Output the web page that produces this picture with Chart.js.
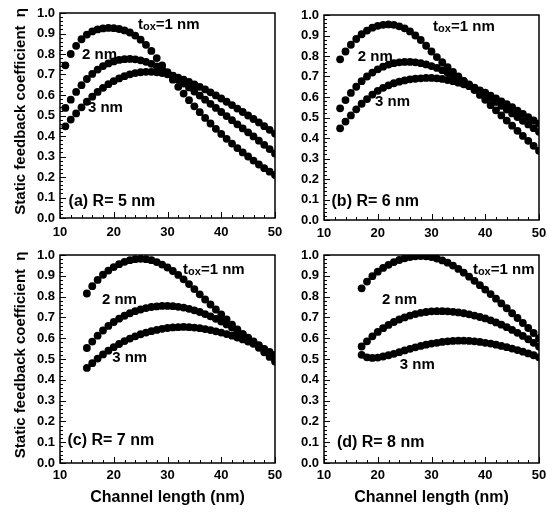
<!DOCTYPE html>
<html>
<head>
<meta charset="utf-8">
<script src="https://cdn.jsdelivr.net/npm/chart.js@4.4.0/dist/chart.umd.min.js"></script>
<style>
  html, body { margin: 0; padding: 0; background: #fff; }
  #wrap { position: relative; width: 547px; height: 513px; overflow: hidden; }
  canvas { position: absolute; }
</style>
</head>
<body>
<div id="wrap">
  <canvas id="chartA" width="285" height="245" style="left:0;top:0"></canvas>
  <canvas id="chartB" width="262" height="245" style="left:285px;top:0"></canvas>
  <canvas id="chartC" width="285" height="273" style="left:0;top:240px"></canvas>
  <canvas id="chartD" width="262" height="273" style="left:285px;top:240px"></canvas>
</div>
<script>
// static feedback coefficient vs channel length, 4 panels (R = 5..8 nm)

const xTicks = [10, 20, 30, 40, 50];
const yTicks = [0, 0.1, 0.2, 0.3, 0.4, 0.5, 0.6, 0.7, 0.8, 0.9, 1.0];

// ── (a) R = 5 nm ──
const lenA = [11, 12, 13, 14, 15, 16, 17, 18, 19, 20, 21, 22, 23, 24, 25, 26, 27, 28, 29, 30,
              31, 32, 33, 34, 35, 36, 37, 38, 39, 40, 41, 42, 43, 44, 45, 46, 47, 48, 49, 50];
const a1nm = [0.745, 0.80, 0.84, 0.872, 0.895, 0.91, 0.92, 0.925, 0.927, 0.926,
              0.922, 0.915, 0.905, 0.89, 0.87, 0.845, 0.815, 0.78, 0.745, 0.71,
              0.675, 0.64, 0.607, 0.575, 0.545, 0.516, 0.488, 0.461, 0.435, 0.41,
              0.386, 0.363, 0.341, 0.32, 0.30, 0.28, 0.261, 0.243, 0.226, 0.21];
const a2nm = [0.537, 0.577, 0.615, 0.648, 0.678, 0.703, 0.724, 0.741, 0.754, 0.764,
              0.771, 0.775, 0.776, 0.774, 0.769, 0.762, 0.752, 0.74, 0.726, 0.71,
              0.693, 0.675, 0.656, 0.637, 0.617, 0.597, 0.577, 0.557, 0.537, 0.517,
              0.497, 0.477, 0.457, 0.437, 0.418, 0.398, 0.377, 0.357, 0.336, 0.315];
const a3nm = [0.447, 0.48, 0.51, 0.54, 0.567, 0.592, 0.615, 0.635, 0.653, 0.668,
              0.681, 0.692, 0.701, 0.707, 0.711, 0.713, 0.713, 0.711, 0.707, 0.701,
              0.694, 0.685, 0.675, 0.664, 0.652, 0.640, 0.627, 0.613, 0.598, 0.583,
              0.567, 0.551, 0.534, 0.517, 0.50, 0.483, 0.466, 0.448, 0.43, 0.412];

// ── (b) R = 6 nm ──
const lenB = [13, 14, 15, 16, 17, 18, 19, 20, 21, 22, 23, 24, 25, 26, 27, 28, 29, 30, 31, 32,
              33, 34, 35, 36, 37, 38, 39, 40, 41, 42, 43, 44, 45, 46, 47, 48, 49, 50];
const b1nm = [0.784, 0.822, 0.855, 0.883, 0.906, 0.924, 0.938, 0.947, 0.952, 0.954,
              0.952, 0.945, 0.935, 0.92, 0.90, 0.878, 0.85, 0.822, 0.795, 0.77,
              0.746, 0.723, 0.701, 0.679, 0.657, 0.634, 0.61, 0.586, 0.56, 0.535,
              0.51, 0.485, 0.46, 0.435, 0.41, 0.386, 0.362, 0.338];
const b2nm = [0.545, 0.585, 0.62, 0.65, 0.677, 0.70, 0.719, 0.735, 0.748, 0.758,
              0.765, 0.769, 0.771, 0.771, 0.769, 0.765, 0.759, 0.751, 0.742, 0.731,
              0.719, 0.706, 0.692, 0.677, 0.662, 0.646, 0.63, 0.614, 0.595, 0.576,
              0.557, 0.539, 0.52, 0.502, 0.484, 0.466, 0.448, 0.43];
const b3nm = [0.447, 0.48, 0.51, 0.54, 0.567, 0.59, 0.612, 0.63, 0.645, 0.657,
              0.667, 0.675, 0.681, 0.686, 0.689, 0.691, 0.693, 0.693, 0.691, 0.688,
              0.683, 0.677, 0.67, 0.662, 0.653, 0.643, 0.632, 0.621, 0.607, 0.593,
              0.579, 0.565, 0.55, 0.534, 0.518, 0.502, 0.486, 0.47];

// ── (c) R = 7 nm ──
const lenC = [15, 16, 17, 18, 19, 20, 21, 22, 23, 24, 25, 26, 27, 28, 29, 30, 31, 32,
              33, 34, 35, 36, 37, 38, 39, 40, 41, 42, 43, 44, 45, 46, 47, 48, 49, 50];
const c1nm = [0.815, 0.85, 0.88, 0.905, 0.925, 0.942, 0.956, 0.967, 0.975, 0.98,
              0.982, 0.98, 0.975, 0.966, 0.954, 0.94, 0.923, 0.904, 0.883, 0.86,
              0.836, 0.811, 0.786, 0.762, 0.738, 0.714, 0.69, 0.665, 0.642, 0.62,
              0.598, 0.576, 0.554, 0.532, 0.51, 0.488];
const c2nm = [0.553, 0.584, 0.612, 0.637, 0.659, 0.678, 0.694, 0.708, 0.72, 0.73,
              0.738, 0.745, 0.75, 0.753, 0.755, 0.755, 0.754, 0.751, 0.747, 0.741,
              0.734, 0.726, 0.716, 0.705, 0.693, 0.68, 0.666, 0.651, 0.636, 0.62,
              0.603, 0.585, 0.566, 0.546, 0.525, 0.504];
const c3nm = [0.457, 0.48, 0.502, 0.522, 0.54, 0.557, 0.572, 0.586, 0.598, 0.609,
              0.619, 0.627, 0.634, 0.64, 0.645, 0.649, 0.652, 0.653, 0.654, 0.653,
              0.651, 0.648, 0.644, 0.639, 0.633, 0.627, 0.62, 0.612, 0.603, 0.594,
              0.584, 0.573, 0.561, 0.548, 0.534, 0.52];

// ── (d) R = 8 nm ──
const lenD = [17, 18, 19, 20, 21, 22, 23, 24, 25, 26, 27, 28, 29, 30, 31, 32,
              33, 34, 35, 36, 37, 38, 39, 40, 41, 42, 43, 44, 45, 46, 47, 48, 49, 50];
const d1nm = [0.84, 0.872, 0.898, 0.92, 0.938, 0.953, 0.966, 0.976, 0.984, 0.99,
              0.994, 0.995, 0.994, 0.99, 0.983, 0.974, 0.963, 0.949, 0.933, 0.915,
              0.896, 0.876, 0.855, 0.834, 0.812, 0.79, 0.767, 0.744, 0.72, 0.697,
              0.673, 0.649, 0.625, 0.60];
const d2nm = [0.56, 0.585, 0.609, 0.63, 0.648, 0.664, 0.678, 0.69, 0.70, 0.709,
              0.716, 0.722, 0.726, 0.729, 0.73, 0.73, 0.729, 0.727, 0.724, 0.72,
              0.715, 0.709, 0.702, 0.695, 0.686, 0.676, 0.665, 0.653, 0.64, 0.626,
              0.611, 0.595, 0.578, 0.56];
const d3nm = [0.52, 0.508, 0.505, 0.507, 0.512, 0.518, 0.525, 0.533, 0.541, 0.549,
              0.556, 0.563, 0.569, 0.574, 0.578, 0.582, 0.585, 0.587, 0.588, 0.588,
              0.587, 0.585, 0.582, 0.578, 0.574, 0.569, 0.563, 0.557, 0.55, 0.543,
              0.535, 0.527, 0.518, 0.508];

const FONT = "'Liberation Sans', Arial, Helvetica, sans-serif";
Chart.defaults.font.family = FONT;
Chart.defaults.color = '#000';

// frame + inward tick marks
const framePlugin = {
    id: 'frame',
    afterDatasetsDraw(chart) {
        const { ctx, chartArea: a, scales: { x, y } } = chart;
        ctx.save();
        ctx.strokeStyle = '#000';
        ctx.lineWidth = 1;
        for (let v = 10; v <= 50; v += 2) {
            const px = Math.round(x.getPixelForValue(v)) + 0.5;
            const len = v % 10 === 0 ? 6 : 3;
            ctx.beginPath();
            ctx.moveTo(px, a.bottom);
            ctx.lineTo(px, a.bottom - len);
            ctx.stroke();
        }
        for (let i = 0; i <= 50; i++) {
            const py = Math.round(y.getPixelForValue(i * 0.02)) + 0.5;
            const len = i % 5 === 0 ? 6 : 3;
            ctx.beginPath();
            ctx.moveTo(a.left, py);
            ctx.lineTo(a.left + len, py);
            ctx.stroke();
        }
        ctx.lineWidth = 1.5;
        ctx.strokeRect(a.left, a.top, a.width, a.height);
        ctx.restore();
    }
};

function notesPlugin(notes) {
    return {
        id: 'notes',
        afterDatasetsDraw(chart) {
            const { ctx, scales: { x, y } } = chart;
            ctx.save();
            ctx.fillStyle = '#000';
            ctx.textAlign = 'left';
            ctx.textBaseline = 'middle';
            notes.forEach(n => {
                let px = x.getPixelForValue(n.x);
                const py = y.getPixelForValue(n.y);
                if (n.tox) {
                    ctx.font = 'bold 15px ' + FONT;
                    ctx.fillText('t', px, py);
                    px += ctx.measureText('t').width;
                    ctx.font = 'bold 11px ' + FONT;
                    ctx.fillText('ox', px, py + 2);
                    px += ctx.measureText('ox').width;
                    ctx.font = 'bold 15px ' + FONT;
                    ctx.fillText('=1 nm', px, py);
                } else {
                    ctx.font = 'bold ' + (n.size || 15) + 'px ' + FONT;
                    ctx.fillText(n.text, px, py);
                }
            });
            ctx.restore();
        }
    };
}

function makePanel(id, xs, series, o) {
    new Chart(document.getElementById(id), {
        type: 'scatter',
        data: {
            datasets: series.map(s => ({
                data: xs.map((v, i) => ({ x: v, y: s[i] })),
                backgroundColor: '#000',
                borderWidth: 0,
                pointRadius: 3.9,
                pointHoverRadius: 3.9,
                clip: 0,
            }))
        },
        options: {
            responsive: false,
            animation: false,
            devicePixelRatio: 1,
            events: [],
            layout: { padding: { left: 0, top: o.padT, right: o.padR, bottom: 0 } },
            plugins: { legend: { display: false }, tooltip: { enabled: false } },
            scales: {
                x: {
                    type: 'linear',
                    min: 10, max: 50,
                    afterBuildTicks: s => { s.ticks = xTicks.map(v => ({ value: v })); },
                    afterFit: s => { s.height = o.xH; s.paddingLeft = 0; s.paddingRight = 0; },
                    grid: { display: false, drawTicks: false },
                    border: { display: false },
                    ticks: { padding: o.xPad, maxRotation: 0, autoSkip: false,
                             font: { size: 13, weight: 'bold' } },
                    title: { display: o.xTitle, text: 'Channel length (nm)',
                             font: { size: 16, weight: 'bold' }, padding: { top: 0, bottom: 6 } }
                },
                y: {
                    type: 'linear',
                    min: 0, max: 1,
                    afterBuildTicks: s => { s.ticks = yTicks.map(v => ({ value: v })); },
                    afterFit: s => { s.width = o.yW; s.paddingTop = 0; s.paddingBottom = 0; },
                    grid: { display: false, drawTicks: false },
                    border: { display: false },
                    ticks: { padding: 5, callback: v => Number(v).toFixed(1),
                             font: { size: 13, weight: 'bold' } },
                    title: { display: o.yTitle, text: '  Static feedback coefficient  \u03b7',
                             font: { size: 15, weight: 'bold' }, padding: { top: 12, bottom: 0 } }
                }
            }
        },
        plugins: [framePlugin, notesPlugin(o.notes)]
    });
}

makePanel('chartA', lenA, [a1nm, a2nm, a3nm], {
    padT: 13, padR: 10, yW: 60, xH: 27, xPad: 7, yTitle: true, xTitle: false,
    notes: [
        { tox: true, x: 24.5, y: 0.94 },
        { text: '2 nm', x: 14.1, y: 0.795 },
        { text: '3 nm', x: 15.2, y: 0.537 },
        { text: '(a) R= 5 nm', x: 11.6, y: 0.08, size: 16 },
    ]
});

makePanel('chartB', lenB, [b1nm, b2nm, b3nm], {
    padT: 15, padR: 8, yW: 39, xH: 25, xPad: 6, yTitle: false, xTitle: false,
    notes: [
        { tox: true, x: 30.3, y: 0.94 },
        { text: '2 nm', x: 16.3, y: 0.795 },
        { text: '3 nm', x: 19.5, y: 0.575 },
        { text: '(b) R= 6 nm', x: 11.4, y: 0.088, size: 16 },
    ]
});

makePanel('chartC', lenC, [c1nm, c2nm, c3nm], {
    padT: 15, padR: 10, yW: 60, xH: 50, xPad: 5, yTitle: true, xTitle: true,
    notes: [
        { tox: true, x: 32.9, y: 0.928 },
        { text: '2 nm', x: 17.8, y: 0.784 },
        { text: '3 nm', x: 19.7, y: 0.505 },
        { text: '(c) R= 7 nm', x: 11.4, y: 0.11, size: 16 },
    ]
});

makePanel('chartD', lenD, [d1nm, d2nm, d3nm], {
    padT: 15, padR: 8, yW: 39, xH: 50, xPad: 5, yTitle: false, xTitle: true,
    notes: [
        { tox: true, x: 37.7, y: 0.928 },
        { text: '2 nm', x: 20.8, y: 0.784 },
        { text: '3 nm', x: 24.1, y: 0.47 },
        { text: '(d) R= 8 nm', x: 12.4, y: 0.10, size: 16 },
    ]
});
</script>
</body>
</html>
